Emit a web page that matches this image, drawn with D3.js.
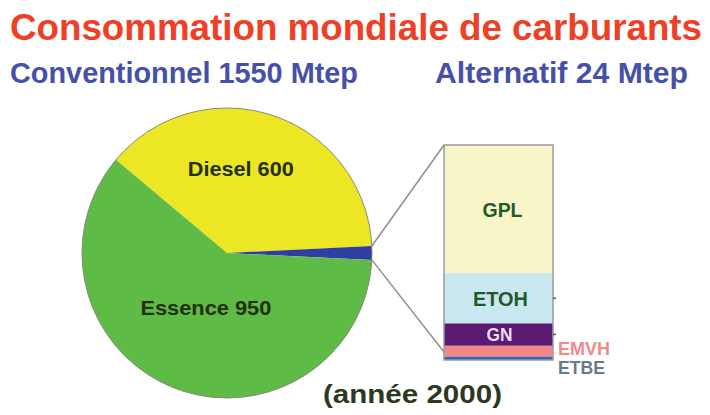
<!DOCTYPE html>
<html>
<head>
<meta charset="utf-8">
<script src="https://cdn.jsdelivr.net/npm/d3@7"></script>
<style>
  body { margin: 0; background: #fff; }
  svg { display: block; font-family: "Liberation Sans", Arial, sans-serif; font-weight: bold; }
</style>
</head>
<body>
<div id="chart"></div>
<script>
// pie : consommation conventionnelle + alternative (Mtep)
const pieCats = ["Diesel", "Alternatif", "Essence"];
const pieValues = [600, 24, 950];
const pieColors = ["#ede625", "#2f3ea2", "#5dbb46"];

// zoom sur les carburants alternatifs (Mtep), du bas vers le haut
const altCats = ["ETBE", "EMVH", "GN", "ETOH", "GPL"];
const altValues = [0.4, 1.2, 2.5, 5.6, 14.3];
const altColors = ["#3563b3", "#f28585", "#5b1a72", "#c9e7f0", "#f8f5c9"];

const width = 710, height = 415;
const svg = d3.select("#chart").append("svg")
    .attr("width", width)
    .attr("height", height);

// Titles
svg.append("text")
    .attr("x", 10).attr("y", 40)
    .attr("font-size", 37)
    .attr("textLength", 692).attr("lengthAdjust", "spacingAndGlyphs")
    .attr("fill", "#ee4027")
    .text("Consommation mondiale de carburants");

svg.append("text")
    .attr("x", 10).attr("y", 83)
    .attr("font-size", 29)
    .attr("textLength", 348).attr("lengthAdjust", "spacingAndGlyphs")
    .attr("fill", "#4550aa")
    .text(`Conventionnel ${pieValues[0] + pieValues[2]} Mtep`);

svg.append("text")
    .attr("x", 435).attr("y", 83)
    .attr("font-size", 29)
    .attr("textLength", 253).attr("lengthAdjust", "spacingAndGlyphs")
    .attr("fill", "#4550aa")
    .text(`Alternatif ${d3.sum(altValues).toFixed(0)} Mtep`);

// Pie
const cx = 227, cy = 253, r = 145;
const deg = Math.PI / 180;
const pie = d3.pie().sort(null)
    .startAngle(-50 * deg)
    .endAngle(310 * deg);
const arcs = pie(pieValues);
const arc = d3.arc().innerRadius(0).outerRadius(r);

const g = svg.append("g").attr("transform", `translate(${cx},${cy})`);

g.selectAll("path.slice")
    .data(arcs)
    .join("path")
    .attr("class", "slice")
    .attr("d", arc)
    .attr("fill", (d, i) => pieColors[i]);

g.append("circle")
    .attr("r", r)
    .attr("fill", "none")
    .attr("stroke", "#8a8a7a")
    .attr("stroke-width", 1);

// labels in slices
const labelRadius = [90, 0, 58];
const labelWidth = [106, 0, 131];
arcs.forEach((d, i) => {
    if (!labelRadius[i]) return;
    const la = d3.arc().innerRadius(labelRadius[i]).outerRadius(labelRadius[i]);
    const [lx, ly] = la.centroid(d);
    g.append("text")
        .attr("x", lx - labelWidth[i] / 2 - (i === 0 ? 15 : 0))
        .attr("y", ly + 8)
        .attr("font-size", 21)
        .attr("textLength", labelWidth[i]).attr("lengthAdjust", "spacingAndGlyphs")
        .attr("fill", "#24300f")
        .text(`${pieCats[i]} ${pieValues[i]}`);
});

// Stacked box
const box = { x0: 444, x1: 553, top: 145, bottom: 360 };
const y = d3.scaleLinear()
    .domain([0, d3.sum(altValues)])
    .range([box.bottom, box.top]);

const stacked = [];
let acc = 0;
altValues.forEach((v, i) => {
    stacked.push({ cat: altCats[i], y0: acc, y1: acc + v, color: altColors[i] });
    acc += v;
});

// connector lines from the alternative slice to the box
const alt = arcs[1];
const p1 = [cx + r * Math.sin(alt.startAngle), cy - r * Math.cos(alt.startAngle)];
const p2 = [cx + r * Math.sin(alt.endAngle), cy - r * Math.cos(alt.endAngle)];
svg.append("line")
    .attr("x1", p1[0]).attr("y1", p1[1])
    .attr("x2", box.x0).attr("y2", y(d3.sum(altValues)))
    .attr("stroke", "#8f8f8f").attr("stroke-width", 1.5);
svg.append("line")
    .attr("x1", p2[0]).attr("y1", p2[1])
    .attr("x2", box.x0).attr("y2", y(0) - 8)
    .attr("stroke", "#8f8f8f").attr("stroke-width", 1.5);

svg.selectAll("rect.seg")
    .data(stacked)
    .join("rect")
    .attr("class", "seg")
    .attr("x", box.x0)
    .attr("width", box.x1 - box.x0)
    .attr("y", d => y(d.y1))
    .attr("height", d => y(d.y0) - y(d.y1))
    .attr("fill", d => d.color);

svg.append("rect")
    .attr("x", box.x0).attr("y", box.top)
    .attr("width", box.x1 - box.x0).attr("height", box.bottom - box.top)
    .attr("fill", "none")
    .attr("stroke", "#9a9aa2").attr("stroke-width", 1.5);

// small marks at the middle of ETOH and GN on the right side
stacked.filter(d => d.cat === "ETOH" || d.cat === "GN").forEach(d => {
    const m = y((d.y0 + d.y1) / 2);
    svg.append("line")
        .attr("x1", box.x1).attr("x2", box.x1 + 3)
        .attr("y1", m).attr("y2", m)
        .attr("stroke", "#555").attr("stroke-width", 1.5);
});

// labels inside segments
const inside = {
    GPL: { fill: "#1f5a2a", size: 21, len: 40, dx: 4 },
    ETOH: { fill: "#1f5a2a", size: 21, len: 55, dx: 2 },
    GN: { fill: "#eadcee", size: 18, len: 26, dx: 1 }
};
stacked.forEach(d => {
    const s = inside[d.cat];
    if (!s) return;
    const mid = (y(d.y0) + y(d.y1)) / 2;
    svg.append("text")
        .attr("x", (box.x0 + box.x1) / 2 + s.dx)
        .attr("y", mid + s.size * 0.36)
        .attr("text-anchor", "middle")
        .attr("font-size", s.size)
        .attr("textLength", s.len).attr("lengthAdjust", "spacingAndGlyphs")
        .attr("fill", s.fill)
        .text(d.cat);
});

// labels outside for the thin segments
const outside = {
    EMVH: { fill: "#f08a8c", dy: 4, len: 52 },
    ETBE: { fill: "#6b7889", dy: 16, len: 47 }
};
stacked.forEach(d => {
    const s = outside[d.cat];
    if (!s) return;
    const mid = (y(d.y0) + y(d.y1)) / 2;
    svg.append("text")
        .attr("x", box.x1 + 5)
        .attr("y", mid + s.dy)
        .attr("font-size", 19)
        .attr("textLength", s.len).attr("lengthAdjust", "spacingAndGlyphs")
        .attr("fill", s.fill)
        .text(d.cat);
});

// year
svg.append("text")
    .attr("x", 323).attr("y", 403)
    .attr("font-size", 26)
    .attr("textLength", 179).attr("lengthAdjust", "spacingAndGlyphs")
    .attr("fill", "#2b3a1e")
    .text("(année 2000)");
</script>
</body>
</html>
